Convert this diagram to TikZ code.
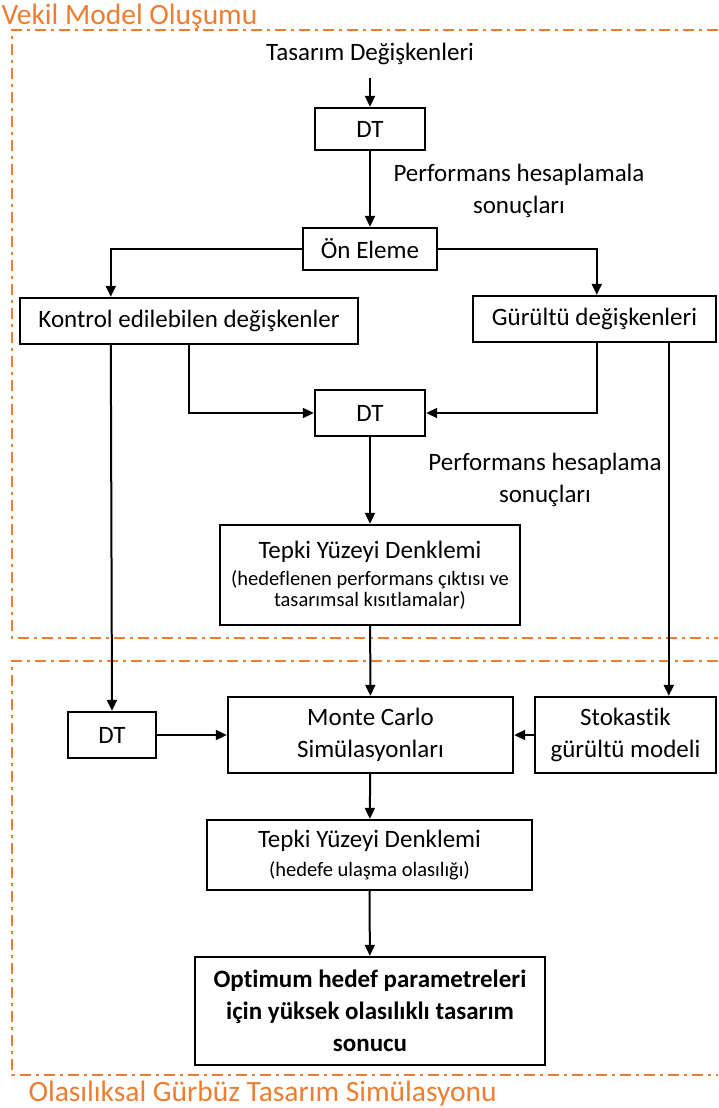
\documentclass[tikz,border=0pt]{standalone}
\usepackage{fontspec}
\setmainfont{Carlito}[Ligatures=NoCommon]
\usepackage{tikz}
\usetikzlibrary{arrows.meta}

\definecolor{turuncu}{HTML}{ED7D31}
\newcommand{\yazi}{\fontsize{25}{32}\selectfont}
\newcommand{\kucuk}{\fontsize{20.5}{21}\selectfont}

\tikzset{
  kutu/.style={draw, line width=2.4pt, align=center, inner sep=0pt, font=\yazi},
  ok/.style={line width=2pt, -{Triangle[length=11pt,width=10pt]}},
  bolge/.style={draw=turuncu, line width=2.2pt, dash pattern=on 11pt off 5pt on 3pt off 5pt},
  baslik/.style={text=turuncu, anchor=west, font=\fontsize{29.5}{34}\selectfont},
  etiket/.style={align=center, font=\yazi}
}

\begin{document}
\begin{tikzpicture}[x=1pt, y=-1pt]
                    \useasboundingbox (0,0) rectangle (718,1108);
                    % dis cerceveler
                    \draw [bolge] (718,30) -- (12,30) -- (12,638) -- (718,638);
                    \draw [bolge] (718,661) -- (12,661) -- (12,1075) -- (718,1075);
                    \node [baslik] (b1) at (-2,17) {Vekil Model Oluşumu};
                    \node [baslik] (b2) at (25,1094) {Olasılıksal Gürbüz Tasarım Simülasyonu};
                    % ust kisim
                    \node [etiket] (tasarim) at (370,54) {Tasarım Değişkenleri};
                    \node [kutu, minimum width=110pt, minimum height=42pt] (dt1) at (370,129) {DT};
                    \node [etiket] (perf1) at (519,191) {Performans hesaplamala\\sonuçları};
                    \node [kutu, minimum width=134pt, minimum height=42pt] (onel) at (370,249) {Ön Eleme};
                    \node [kutu, minimum width=338pt, minimum height=46pt] (kontrol) at (189,321) {Kontrol edilebilen değişkenler};
                    \node [kutu, minimum width=243pt, minimum height=46pt] (gurultu) at (594.5,319) {Gürültü değişkenleri};
                    \node [kutu, minimum width=110pt, minimum height=46pt] (dt2) at (370,413) {DT};
                    \node [etiket] (perf2) at (545,480) {Performans hesaplama\\sonuçları};
                    \node [kutu, minimum width=300pt, minimum height=100pt] (tepki1) at (370,575)
                        {Tepki Yüzeyi Denklemi\\[-5pt]{\kucuk (hedeflenen performans çıktısı ve}\\[-11pt]{\kucuk tasarımsal kısıtlamalar)}};
                    % alt kisim
                    \node [kutu, minimum width=88pt, minimum height=46pt] (dt3) at (112,735) {DT};
                    \node [kutu, minimum width=285pt, minimum height=76pt] (mc) at (370.5,735) {Monte Carlo\\Simülasyonları};
                    \node [kutu, minimum width=181pt, minimum height=76pt] (stok) at (625.5,735) {Stokastik\\gürültü modeli};
                    \node [kutu, minimum width=325pt, minimum height=70pt] (tepki2) at (369.5,855)
                        {Tepki Yüzeyi Denklemi\\[-3pt]{\kucuk (hedefe ulaşma olasılığı)}};
                    \node [kutu, minimum width=350pt, minimum height=108pt, font=\yazi\bfseries] (sonuc) at (370,1011)
                        {Optimum hedef parametreleri\\için yüksek olasılıklı tasarım\\sonucu};
                    % oklar
                    \draw [ok, shorten <=10pt] (tasarim) -- (dt1);
                    \draw [ok] (dt1) -- (onel);
                    \draw [ok] (onel.west) -| ([xshift=92pt]kontrol.north west);
                    \draw [ok] (onel.east) -| ([xshift=125pt]gurultu.north west);
                    \draw [ok] ([xshift=170pt]kontrol.south west) |- (dt2.west);
                    \draw [ok] ([xshift=125pt]gurultu.south west) |- (dt2.east);
                    \draw [ok] ([xshift=92pt]kontrol.south west) -- (dt3.north);
                    \draw [ok] ([xshift=197pt]gurultu.south west) -- ([xshift=197pt]gurultu.south west |- stok.north);
                    \draw [ok] (dt2) -- (tepki1);
                    \draw [ok] (tepki1) -- (mc);
                    \draw [ok] (dt3) -- (mc);
                    \draw [ok] (stok) -- (mc);
                    \draw [ok] (mc) -- (tepki2);
                    \draw [ok] (tepki2) -- (sonuc);
\end{tikzpicture}
\end{document}
